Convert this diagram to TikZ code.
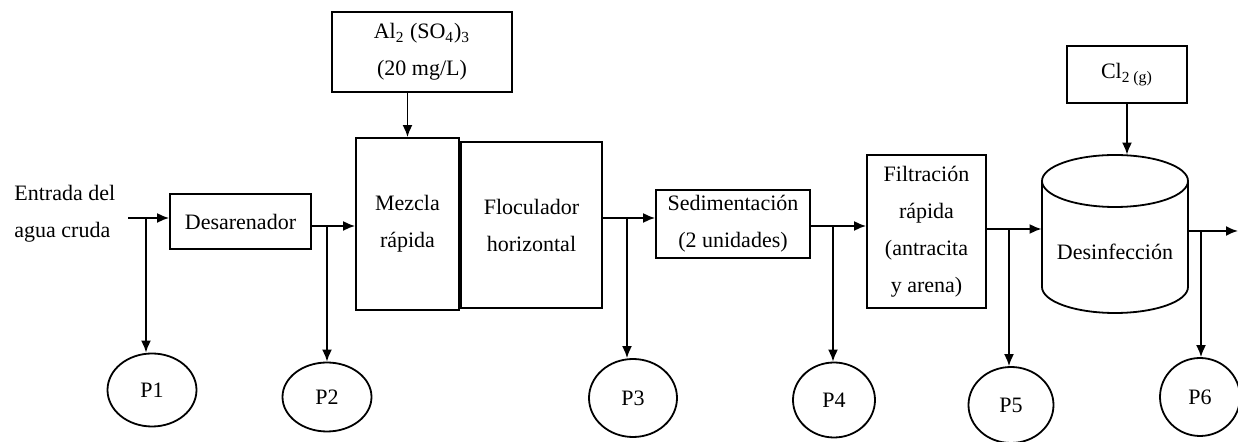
\documentclass[tikz,border=0pt]{standalone}
\usepackage{fontspec}
\setmainfont{Liberation Serif}
\usetikzlibrary{shapes.geometric,arrows.meta}
\tikzset{
  every node/.style={font=\fontsize{11}{18.5}\selectfont},
  box/.style={draw, line width=0.9pt, align=center, inner sep=0pt},
  pt/.style={draw, ellipse, line width=0.9pt, inner sep=0pt},
  flow/.style={line width=0.9pt, -{Latex[length=6pt,width=5pt]}},
}
\begin{document}
\begin{tikzpicture}[x=0.5pt,y=-0.5pt]
\useasboundingbox (0,0) rectangle (1238,442);
% boxes
\node[box, minimum width=70.5pt, minimum height=27.5pt] (des) at (240.5,221.5) {Desarenador};
\node[box, minimum width=90pt, minimum height=40pt] (alum) at (422,52) {Al\textsubscript{2} (SO\textsubscript{4})\textsubscript{3}\\(20 mg/L)};
\node[box, minimum width=51.5pt, minimum height=86pt] (mez) at (407.5,224) {Mezcla\\rápida};
\node[box, minimum width=70.5pt, minimum height=83pt] (flo) at (531.5,225) {Floculador\\horizontal};
\node[box, minimum width=77pt, minimum height=34pt] (sed) at (733,224) {Sedimentación\\(2 unidades)};
\node[box, minimum width=59.5pt, minimum height=76.5pt] (fil) at (926.5,231.5) {Filtración\\rápida\\(antracita\\y arena)};
\node[box, minimum width=60pt, minimum height=28.5pt] (cl) at (1127,74.5) {Cl\textsubscript{2 {\fontsize{8}{8}\selectfont(g)}}};
% cylinder
\node[inner sep=0pt, minimum width=73pt, minimum height=79pt] (cyl) at (1115,234) {};
\draw[line width=0.9pt] (1115,181) ellipse [x radius=36.5pt, y radius=13pt];
\draw[line width=0.9pt] (1042,181) -- (1042,287) arc[start angle=180, end angle=360, x radius=36.5pt, y radius=13pt] -- (1188,181);
\node at (1115,252) {Desinfección};
% sampling points
\node[pt, minimum width=44.5pt, minimum height=36.5pt] (p1) at (152,390) {P1};
\node[pt, minimum width=44.5pt, minimum height=34.5pt] (p2) at (327,397) {P2};
\node[pt, minimum width=44pt, minimum height=39pt] (p3) at (633,398) {P3};
\node[pt, minimum width=41pt, minimum height=37.5pt] (p4) at (834,400) {P4};
\node[pt, minimum width=42.5pt, minimum height=38pt] (p5) at (1011,405) {P5};
\node[pt, minimum width=40pt, minimum height=39pt] (p6) at (1200,397) {P6};
% inlet text
\node[anchor=west, align=left, inner sep=0pt] (ent) at (14,214) {Entrada del\\agua cruda};
% branch coordinates
\coordinate (in) at (128,218);
\coordinate (b1) at (146,218);
\coordinate (b2) at (327,226);
\coordinate (b3) at (627,218);
\coordinate (b4) at (833,226);
\coordinate (b5) at (1009,229);
\coordinate (b6) at (1201,231);
\coordinate (out) at (1238,231);
% main flow
\draw[flow] (in) -- (in -| des.west);
\draw[flow] (b2 -| des.east) -- (b2 -| mez.west);
\draw[flow] (b3 -| flo.east) -- (b3 -| sed.west);
\draw[flow] (b4 -| sed.east) -- (b4 -| fil.west);
\draw[flow] (b5 -| fil.east) -- (b5 -| cyl.west);
\draw[flow] (b6 -| cyl.east) -- (out);
% dosing
\draw[flow] (mez.north |- alum.south) -- (mez.north);
\draw[flow] (cl.south) -- (cl.south |- cyl.north);
% sampling
\draw[flow] (b1) -- (b1 |- p1.north);
\draw[flow] (b2) -- (b2 |- p2.north);
\draw[flow] (b3) -- (b3 |- p3.north);
\draw[flow] (b4) -- (b4 |- p4.north);
\draw[flow] (b5) -- (b5 |- p5.north);
\draw[flow] (b6) -- (b6 |- p6.north);
\end{tikzpicture}
\end{document}
